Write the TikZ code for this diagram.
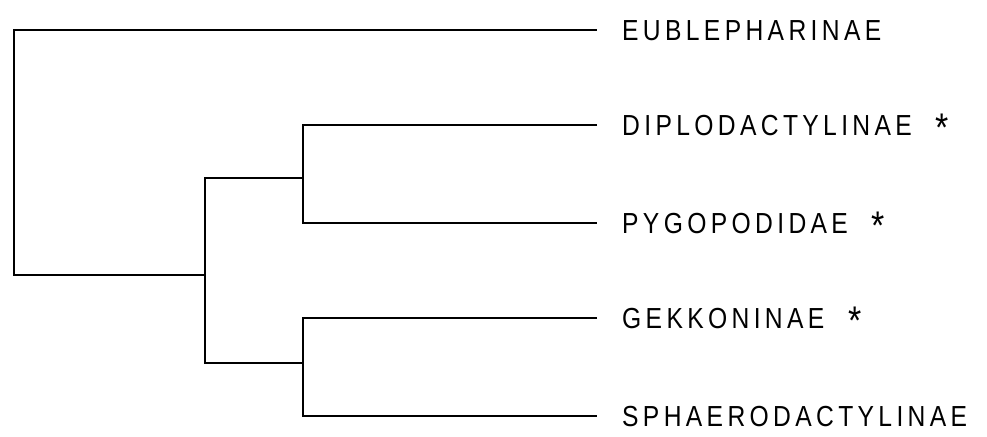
\documentclass[tikz,border=0pt]{standalone}
\usepackage{fontspec}
\newfontfamily\labfont[LetterSpace=15,FakeStretch=0.85]{Liberation Sans}
\newcommand{\starmark}{\hspace{24pt}\raisebox{-6pt}{\fontsize{40}{40}\selectfont *}}
\begin{document}
\begin{tikzpicture}[x=1pt,y=-1pt,
  branch/.style={draw=black,line width=2.6pt,line join=miter},
  taxon/.style={anchor=west,inner xsep=25pt,inner ysep=0pt,text height=21pt,text depth=0pt,
    font=\labfont\fontsize{29}{30}\selectfont}]
\useasboundingbox (0,0) rectangle (987,436);
\node[taxon] (eub) at (597,30) {EUBLEPHARINAE};
\node[taxon] (dip) at (597,125) {DIPLODACTYLINAE\starmark};
\node[taxon] (pyg) at (597,223) {PYGOPODIDAE\starmark};
\node[taxon] (gek) at (597,318) {GEKKONINAE\starmark};
\node[taxon] (sph) at (597,416) {SPHAERODACTYLINAE};
\coordinate (R) at (14,275);
\coordinate (A) at (205,275);
\coordinate (B) at (303,178);
\coordinate (C) at (303,363);
\draw[branch] (A) -- (R) |- (eub.west);
\draw[branch] (B) -- (A |- B) -- (A |- C) -- (C);
\draw[branch] (dip.west) -| (B) |- (pyg.west);
\draw[branch] (gek.west) -| (C) |- (sph.west);
\end{tikzpicture}
\end{document}
